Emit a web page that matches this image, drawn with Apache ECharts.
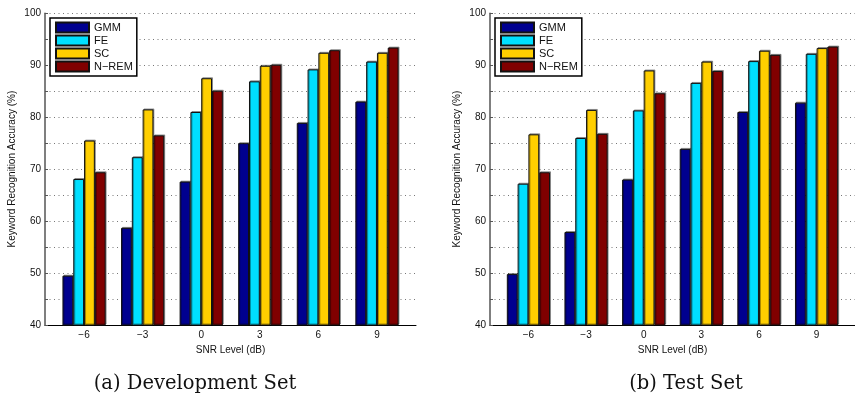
<!DOCTYPE html>
<html>
<head>
<meta charset="utf-8">
<script src="https://cdn.jsdelivr.net/npm/echarts@6/dist/echarts.min.js"></script>
<style>
html,body{margin:0;padding:0;background:#fff;}
#chart{width:855px;height:395px;}
</style>
</head>
<body>
<div id="chart"></div>
<script>
// ---- data ----
const snrLevels = [-6, -3, 0, 3, 6, 9];
const seriesNames = ['GMM', 'FE', 'SC', 'N\u2212REM'];
const devGMM  = [49.5, 58.7, 67.6, 75.0, 78.9, 83.0];
const devFE   = [68.1, 72.3, 81.0, 86.9, 89.2, 90.7];
const devSC   = [75.5, 81.5, 87.5, 89.9, 92.4, 92.4];
const devNREM = [69.4, 76.5, 85.1, 90.1, 92.9, 93.4];
const testGMM  = [49.8, 57.9, 68.0, 73.9, 81.0, 82.8];
const testFE   = [67.2, 76.0, 81.3, 86.6, 90.8, 92.2];
const testSC   = [76.7, 81.4, 89.0, 90.7, 92.8, 93.3];
const testNREM = [69.4, 76.8, 84.6, 88.9, 92.0, 93.6];
const yTicks = [40, 50, 60, 70, 80, 90, 100];
const captions = ['(a) Development Set', '(b) Test Set'];

const colors = ['#00008F', '#00DFFF', '#FFCF00', '#800000'];
const FONT = 'Liberation Sans';

const grids = [
  {left: 45, top: 13.3, width: 371, height: 311.7},
  {left: 490, top: 13.3, width: 371, height: 311.7}
];

function xAxisFor(i) {
  return {
    type: 'value', gridIndex: i, min: -8, max: 11,
    name: 'SNR Level (dB)', nameLocation: 'middle', nameGap: 16,
    nameTextStyle: {fontFamily: FONT, fontSize: 10, color: '#111'},
    axisLine: {show: true, onZero: false, lineStyle: {color: '#000', width: 1}},
    axisTick: {show: false, customValues: snrLevels},
    splitLine: {show: false},
    axisLabel: {
      customValues: snrLevels, margin: 5,
      fontFamily: FONT, fontSize: 10, color: '#111',
      formatter: v => String(v).replace('-', '\u2212')
    }
  };
}
function yAxisFor(i) {
  return {
    type: 'value', gridIndex: i, min: 40, max: 100, interval: 5,
    name: 'Keyword Recognition Accuracy (%)', nameLocation: 'middle', nameGap: 28,
    nameTextStyle: {fontFamily: FONT, fontSize: 10, color: '#111'},
    axisLine: {show: true, onZero: false, lineStyle: {color: '#555', width: 1.5}},
    axisTick: {show: true, inside: true, length: 3, lineStyle: {color: '#555'}},
    splitLine: {show: true, lineStyle: {color: '#777', width: 1, type: [1, 3.5]}},
    axisLabel: {
      margin: 4, fontFamily: FONT, fontSize: 10, color: '#111',
      formatter: v => (yTicks.indexOf(v) >= 0 ? String(v) : '')
    }
  };
}

const sets = [[devGMM, devFE, devSC, devNREM], [testGMM, testFE, testSC, testNREM]];
const series = [];
sets.forEach((set, gi) => {
  set.forEach((vals, si) => {
    series.push({
      type: 'bar', name: seriesNames[si],
      xAxisIndex: gi, yAxisIndex: gi,
      barWidth: 10.8, barGap: '0%',
      itemStyle: {color: colors[si], borderColor: '#111', borderWidth: 1,
        shadowColor: 'rgba(0,0,0,0.35)', shadowOffsetX: 1, shadowOffsetY: -1, shadowBlur: 0},
      emphasis: {disabled: true},
      data: snrLevels.map((x, k) => [x, vals[k]])
    });
  });
});

function legendFor(left) {
  return {
    orient: 'vertical', left: left, top: 18, itemWidth: 33, itemHeight: 10, itemGap: 0,
    padding: [3, 4, 3, 5], borderColor: '#000', borderWidth: 1.5, backgroundColor: '#fff',
    icon: 'rect', data: seriesNames,
    itemStyle: {shadowBlur: 0, shadowOffsetX: 0, shadowOffsetY: 0, shadowColor: 'transparent'},
    textStyle: {fontFamily: FONT, fontSize: 11, color: '#111', lineHeight: 13}
  };
}

const option = {
  animation: false,
  backgroundColor: '#fff',
  grid: grids,
  xAxis: [xAxisFor(0), xAxisFor(1)],
  yAxis: [yAxisFor(0), yAxisFor(1)],
  legend: [legendFor(50), legendFor(495)],
  series: series,
  graphic: [
    {type: 'text', x: 195, y: 384, style: {text: captions[0], align: 'center', verticalAlign: 'middle', font: '19.5px "DejaVu Serif"', fill: '#111'}},
    {type: 'text', x: 686, y: 384, style: {text: captions[1], align: 'center', verticalAlign: 'middle', font: '19.5px "DejaVu Serif"', fill: '#111'}}
  ]
};
const chart = echarts.init(document.getElementById('chart'), null, {renderer: 'canvas'});
chart.setOption(option);
</script>
</body>
</html>
